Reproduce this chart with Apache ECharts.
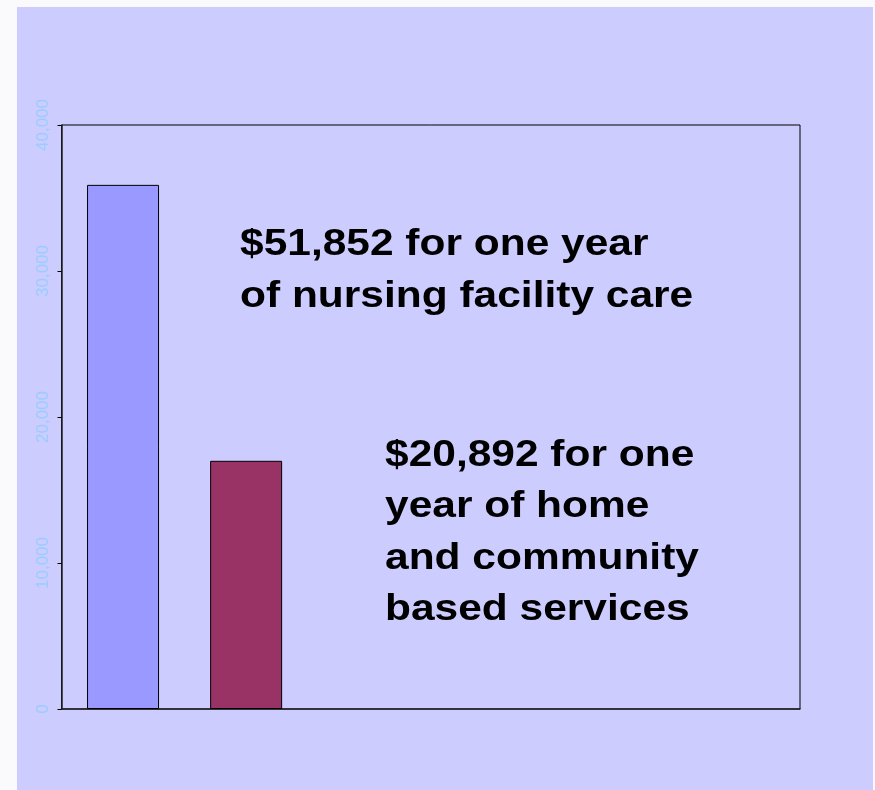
<!DOCTYPE html>
<html>
<head>
<meta charset="utf-8">
<script src="https://cdn.jsdelivr.net/npm/echarts@6/dist/echarts.min.js"></script>
<style>
html,body{margin:0;padding:0;background:#FAFAFC;}
#c{width:875px;height:790px;}
</style>
</head>
<body>
<div id="c"></div>
<script>
const categories = ['Nursing facility care', 'Home and community based services', '', '', '', ''];
const costValues = [35900, 17000, null, null, null, null];
const barColors = ['#9999FF', '#993366'];
const yTicks = [0, 10000, 20000, 30000, 40000];
const note1Lines = ['$51,852 for one year', 'of nursing facility care'];
const note2Lines = ['$20,892 for one', 'year of home', 'and community', 'based services'];

const chart = echarts.init(document.getElementById('c'), null, {renderer: 'canvas'});

function noteGraphics(lines, x, y0, lh) {
  return lines.map((t, i) => ({
    type: 'text',
    x: x, y: y0 + i * lh,
    scaleX: 1.18,
    z: 10,
    style: {
      text: t, x: 0, y: 0,
      font: 'bold 36px "Liberation Sans", Arial, sans-serif',
      fill: '#000000',
      verticalAlign: 'middle',
      align: 'left'
    }
  }));
}

const option = {
  backgroundColor: '#FAFAFC',
  animation: false,
  graphic: [
    {type: 'rect', shape: {x: 17, y: 7, width: 856, height: 783}, style: {fill: '#CCCCFF'}, z: -10, silent: true},
    ...noteGraphics(note1Lines, 240, 245, 52),
    ...noteGraphics(note2Lines, 385, 456, 51.5)
  ],
  grid: {left: 61.5, top: 125, width: 738.5, height: 584, show: true, borderColor: '#000', borderWidth: 1, backgroundColor: 'transparent'},
  xAxis: {
    type: 'category', data: categories,
    axisLine: {show: true, lineStyle: {color: '#222', width: 1.5}},
    axisTick: {show: false}, axisLabel: {show: false}, splitLine: {show: false}
  },
  yAxis: {
    type: 'value', min: yTicks[0], max: yTicks[yTicks.length - 1], interval: 10000,
    axisLine: {show: true, lineStyle: {color: '#222', width: 1.5}},
    axisTick: {show: true, length: 4, lineStyle: {color: '#000'}},
    splitLine: {show: false},
    axisLabel: {
      rotate: 90, margin: 10, color: '#99CCFF', fontSize: 17,
      fontFamily: '"Liberation Sans", Arial, sans-serif',
      formatter: v => v.toLocaleString('en-US')
    }
  },
  series: [{
    type: 'bar', data: costValues.map((v, i) => v == null ? null : {value: v, itemStyle: {color: barColors[i]}}),
    barWidth: 72,
    itemStyle: {borderColor: '#000', borderWidth: 1}
  }]
};
chart.setOption(option);
</script>
</body>
</html>
